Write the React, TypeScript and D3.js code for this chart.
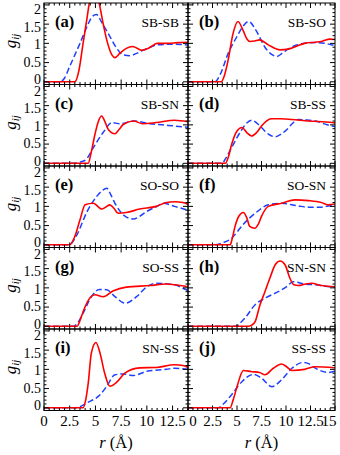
import React, { useEffect, useRef } from "react";
import * as d3 from "d3";

type Pt = [number, number];

const panelLabels = ["(a)", "(b)", "(c)", "(d)", "(e)", "(f)", "(g)", "(h)", "(i)", "(j)"];
const pairNames = ["SB-SB", "SB-SO", "SB-SN", "SB-SS", "SO-SO", "SO-SN", "SO-SS", "SN-SN", "SN-SS", "SS-SS"];
const yTicks = [0, 0.5, 1, 1.5, 2];
const xTicks = [0, 2.5, 5, 7.5, 10, 12.5, 15];

// red solid curves
const aRed: Pt[] = [[0,0],[3.0,0],[3.4,0.3],[3.8,1.0],[4.15,1.6],[4.5,2.2],[4.9,2.5],[5.4,2.0],[5.8,1.45],[6.1,1.09],[6.6,0.7],[6.9,0.63],[7.4,0.75],[8.0,0.87],[8.6,0.92],[9.0,0.88],[9.5,0.82],[10.2,0.88],[11,1.0],[12,1.0],[13,1.02],[14,1.03]];
const bRed: Pt[] = [[0,0],[3.4,0],[3.7,0.15],[4.1,0.57],[4.6,1.26],[5.1,1.57],[5.6,1.35],[6.0,1.12],[6.3,1.05],[6.8,1.06],[7.3,1.09],[8.2,0.96],[9.4,0.83],[10.2,0.85],[11.0,0.92],[11.9,1.0],[13.0,1.03],[13.6,1.05],[14.5,1.11],[15,1.1]];
const cRed: Pt[] = [[0,0],[4.3,0],[4.6,0.3],[4.95,0.75],[5.3,1.1],[5.6,1.23],[5.9,1.1],[6.25,0.88],[6.9,0.77],[7.3,0.88],[7.7,1.01],[8.7,1.1],[9.6,1.03],[10.9,1.06],[12.7,1.12],[14,1.08]];
const dRed: Pt[] = [[0,0],[3.8,0],[4.1,0.15],[4.45,0.49],[5.0,0.84],[5.5,0.93],[6.0,0.8],[6.5,0.71],[7.0,0.8],[7.5,0.97],[8.0,1.1],[8.5,1.16],[9.5,1.16],[10.6,1.14],[12.3,1.1],[14.7,1.06],[15,1.05]];
const eRed: Pt[] = [[0,0],[2.5,0],[3.0,0.22],[3.5,0.65],[4.0,1.04],[4.8,1.08],[5.6,0.93],[6.0,0.98],[6.4,1.04],[6.8,0.95],[7.2,0.82],[8.0,0.84],[9.3,0.93],[10.9,1.0],[11.9,1.1],[12.7,1.12],[13.5,1.1],[14,1.05]];
const fRed: Pt[] = [[0,0],[4.3,0],[4.5,0.15],[4.8,0.48],[5.2,0.75],[5.65,0.84],[6.0,0.7],[6.3,0.48],[6.8,0.43],[7.2,0.55],[7.5,0.74],[8.2,1.0],[9.55,1.08],[10.9,1.17],[12.3,1.15],[13.6,1.1],[14.3,1.04],[15,1.06]];
const gRed: Pt[] = [[0,0],[3.2,0],[3.5,0.15],[3.8,0.38],[4.5,0.75],[4.95,0.82],[5.75,0.77],[6.7,0.92],[8.0,1.02],[10.3,1.06],[11.9,1.1],[12.7,1.08],[14,1.03]];
const hRed: Pt[] = [[0,0],[6.15,0],[6.5,0.03],[6.85,0.12],[7.35,0.56],[7.85,0.9],[8.35,1.25],[8.9,1.6],[9.4,1.7],[9.9,1.6],[10.4,1.25],[10.8,1.08],[11.25,1.06],[12.0,1.1],[12.6,1.12],[13.6,1.06],[15,1.03]];
const iRed: Pt[] = [[0,0],[3.8,0],[4.05,0.2],[4.3,0.64],[4.6,1.42],[5.05,1.7],[5.45,1.42],[5.9,0.9],[6.4,0.56],[7.05,0.66],[7.85,0.9],[9.3,1.04],[10.9,1.05],[12.7,1.12],[13.5,1.1],[14,1.05]];
const jRed: Pt[] = [[0,0],[4.3,0],[4.6,0.2],[5.0,0.55],[5.65,0.97],[6.5,0.94],[7.3,0.92],[7.85,0.86],[8.7,1.03],[9.55,1.14],[10.0,1.08],[10.6,0.97],[11.9,1.0],[13.0,1.07],[14.7,1.05],[15,1.04]];

// blue dashed curves
const aBlue: Pt[] = [[0,0],[1.5,0],[2.0,0.1],[2.5,0.4],[3.0,0.7],[3.5,1.0],[4.2,1.45],[4.7,1.7],[5.1,1.75],[5.6,1.55],[6.4,1.18],[7.0,0.9],[7.7,0.7],[8.35,0.68],[9.0,0.74],[9.7,0.83],[10.5,0.92],[11,0.96],[12.7,0.98],[14,0.96]];
const bBlue: Pt[] = [[0,0],[2.75,0],[3.3,0.2],[4.1,0.74],[5.0,1.18],[5.6,1.44],[6.2,1.57],[7.0,1.31],[7.9,0.88],[8.5,0.72],[9.05,0.66],[9.6,0.74],[10.2,0.85],[11.0,0.95],[11.9,1.0],[13,1.02],[14.0,1.0],[14.7,0.96],[15,0.95]];
const cBlue: Pt[] = [[0,0],[2.85,0],[3.5,0.03],[4.1,0.1],[4.8,0.41],[5.75,0.8],[6.6,1.06],[7.4,1.03],[8.7,1.1],[10.3,1.03],[11.5,1.0],[12.7,0.97],[14,0.94]];
const dBlue: Pt[] = [[0,0],[3.45,0],[3.9,0.15],[4.45,0.41],[5.5,0.88],[6.0,1.05],[6.5,1.12],[7.0,1.05],[7.5,0.93],[8.2,0.76],[8.9,0.69],[9.5,0.76],[10.1,0.88],[10.7,1.05],[11.25,1.14],[12,1.13],[13,1.1],[14,1.02],[14.7,0.97],[15,0.96]];
const eBlue: Pt[] = [[0,0],[2.35,0],[2.7,0.05],[3.2,0.26],[4.2,0.87],[5.1,1.25],[5.7,1.42],[6.1,1.47],[6.5,1.3],[6.9,1.08],[7.9,0.74],[8.7,0.67],[9.3,0.74],[10,0.87],[11.0,1.0],[11.6,1.08],[12.7,1.0],[14,0.9]];
const fBlue: Pt[] = [[0,0],[2.75,0],[3.5,0.05],[4.45,0.17],[5.0,0.33],[5.6,0.52],[6.85,0.82],[8.2,1.04],[9.55,1.08],[11.25,1.01],[12.3,0.98],[13.5,0.98],[14.3,1.01],[15,1.02]];
const gBlue: Pt[] = [[0,0],[2.85,0],[3.3,0.1],[3.8,0.34],[4.6,0.77],[5.4,0.96],[6.1,0.95],[6.9,0.77],[7.9,0.6],[9.0,0.77],[10.0,1.03],[10.9,1.12],[12.7,1.08],[13.5,0.99],[14,0.93]];
const hBlue: Pt[] = [[0,0],[4.95,0],[5.3,0.08],[5.8,0.21],[6.85,0.56],[7.85,0.73],[9.2,0.9],[10.0,1.02],[10.75,1.16],[11.9,1.1],[13.0,1.08],[14.7,1.03],[15,1.03]];
const iBlue: Pt[] = [[0,0],[2.85,0],[3.5,0.03],[4.1,0.12],[5.45,0.34],[6.1,0.56],[6.9,0.86],[7.7,0.88],[8.7,0.84],[10.0,0.95],[11.9,1.0],[12.7,1.03],[14,1.0]];
const jBlue: Pt[] = [[0,0],[3.1,0],[3.6,0.1],[4.45,0.34],[5.5,0.68],[6.7,0.87],[7.5,0.77],[8.55,0.55],[9.55,0.73],[10.6,1.03],[11.75,1.18],[12.3,1.15],[13,1.03],[14.3,0.92],[15,0.95]];

const redSeries = [aRed, bRed, cRed, dRed, eRed, fRed, gRed, hRed, iRed, jRed];
const blueSeries = [aBlue, bBlue, cBlue, dBlue, eBlue, fBlue, gBlue, hBlue, iBlue, jBlue];

const App = () => {
  const svgRef = useRef<SVGSVGElement>(null);

  useEffect(() => {
    const svg = d3.select(svgRef.current);
    svg.selectAll("*").remove();

    const font = "Liberation Serif, Times New Roman, DejaVu Serif, serif";
    const left = 44, mid = 188, right = 335, top = 3, ph = 81.5;
    const defs = svg.append("defs");
    const root = svg.append("g").style("font-family", font);

    for (let i = 0; i < 10; i++) {
      const col = i % 2;
      const row = Math.floor(i / 2);
      const xMax = col ? 15 : 14;
      const x = d3.scaleLinear().domain([0, xMax]).range(col ? [mid, right] : [left, mid]);
      const y0 = top + row * ph;
      const y = d3.scaleLinear().domain([-0.07, 2.05]).range([y0 + ph, y0]);
      // tick labels sit a bit inside the end ticks, as in the original
      const yLab = d3.scaleLinear().domain([0, 2]).range([y0 + 76.5, y0 + 6.5]);
      const [x1, x2] = x.range();

      defs.append("clipPath").attr("id", `clip${i}`)
        .append("rect").attr("x", x1).attr("y", y0).attr("width", x2 - x1).attr("height", ph);

      const g = root.append("g");
      const line = d3.line<Pt>().x((d) => x(d[0])).y((d) => y(d[1])).curve(d3.curveMonotoneX);

      const lines = g.append("g").attr("clip-path", `url(#clip${i})`);
      lines.append("path").datum(blueSeries[i]).attr("d", line)
        .attr("fill", "none").attr("stroke", "#1f3fff").attr("stroke-width", 1.5)
        .attr("stroke-dasharray", "6,3");
      lines.append("path").datum(redSeries[i]).attr("d", line)
        .attr("fill", "none").attr("stroke", "#ff0000").attr("stroke-width", 1.6);

      // frame
      g.append("rect").attr("x", x1).attr("y", y0).attr("width", x2 - x1).attr("height", ph)
        .attr("fill", "none").attr("stroke", "#000").attr("stroke-width", 1);

      // x ticks (top & bottom, inward)
      d3.range(0, xMax + 1e-6, 0.5).forEach((v) => {
        const len = Math.abs(v / 2.5 - Math.round(v / 2.5)) < 1e-6 ? 5 : 2.5;
        const px = x(v);
        g.append("line").attr("x1", px).attr("x2", px).attr("y1", y0 + ph).attr("y2", y0 + ph - len)
          .attr("stroke", "#000");
        g.append("line").attr("x1", px).attr("x2", px).attr("y1", y0).attr("y2", y0 + len)
          .attr("stroke", "#000");
      });
      // y ticks (left & right, inward)
      d3.range(0, 2.0001, 0.1).forEach((v) => {
        const len = Math.abs(v / 0.5 - Math.round(v / 0.5)) < 1e-6 ? 5 : 2.5;
        const py = y(v);
        g.append("line").attr("x1", x1).attr("x2", x1 + len).attr("y1", py).attr("y2", py).attr("stroke", "#000");
        g.append("line").attr("x1", x2).attr("x2", x2 - len).attr("y1", py).attr("y2", py).attr("stroke", "#000");
      });

      if (col === 0) {
        yTicks.forEach((v) => {
          g.append("text").attr("x", x1 - 3).attr("y", yLab(v)).attr("dy", "0.33em")
            .attr("text-anchor", "end").attr("font-size", 14).text(v);
        });
        const lab = g.append("text")
          .attr("transform", `translate(16,${y0 + 38}) rotate(-90)`)
          .attr("text-anchor", "middle").attr("font-style", "italic");
        lab.append("tspan").attr("font-size", 17).text("g");
        lab.append("tspan").attr("font-size", 11).attr("dy", 3).text("ij");
      }

      g.append("text").attr("x", x1 + 11).attr("y", y0 + 24)
        .attr("font-weight", "bold").attr("font-size", 16.5).text(panelLabels[i]);
      g.append("text").attr("x", x2 - 9).attr("y", y0 + 24).attr("text-anchor", "end")
        .attr("font-size", 13.5).text(pairNames[i]);

      if (row === 4) {
        xTicks.filter((v) => v <= xMax).forEach((v) => {
          let dx = 0;
          if (col === 1 && v === 0) dx = 5;
          if (col === 1 && v === 15) dx = -6;
          g.append("text").attr("x", x(v) + dx).attr("y", 426).attr("text-anchor", "middle")
            .attr("font-size", 15).text(v);
        });
        const t = g.append("text").attr("x", (x1 + x2) / 2).attr("y", 448).attr("text-anchor", "middle")
          .attr("font-size", 16.5);
        t.append("tspan").attr("font-style", "italic").text("r");
        t.append("tspan").text(" (Å)");
      }
    }
  }, []);

  return (
    <svg ref={svgRef} width={340} height={455}
      style={{ position: "absolute", left: 0, top: 0, background: "#fff" }} />
  );
};

export default App;
